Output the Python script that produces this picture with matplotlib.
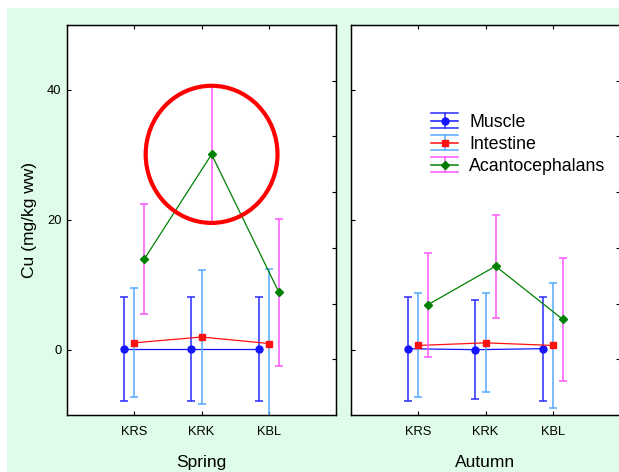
import numpy as np
import matplotlib
matplotlib.use('Agg')
import matplotlib.pyplot as plt
from matplotlib.patches import Rectangle, Ellipse
from matplotlib.lines import Line2D
from matplotlib.legend_handler import HandlerBase
from matplotlib.container import ErrorbarContainer

plt.rcParams['font.family'] = ['Liberation Sans', 'DejaVu Sans']

# ── Data (Cu, mg/kg ww, mean ± error) ────────────────────────
sites = ['KRS', 'KRK', 'KBL']
seasons = ['Spring', 'Autumn']

spring_muscle        = [0.1, 0.1, 0.1]
spring_muscle_err    = [8.0, 8.0, 8.0]
spring_intestine     = [1.1, 2.0, 1.0]
spring_intestine_err = [8.4, 10.3, 11.4]
spring_acanto        = [14.0, 30.1, 8.9]
spring_acanto_err    = [8.4, 10.5, 11.3]

autumn_muscle        = [0.2, 0.05, 0.2]
autumn_muscle_err    = [8.0, 7.6, 8.0]
autumn_intestine     = [0.7, 1.1, 0.7]
autumn_intestine_err = [8.0, 7.6, 9.6]
autumn_acanto        = [7.0, 12.9, 4.7]
autumn_acanto_err    = [8.0, 7.9, 9.5]

labels = ['Muscle', 'Intestine', 'Acantocephalans']

# ── Styles ───────────────────────────────────────────────────
line_cols = ['#1515ff', '#ff1010', '#008000']
bar_cols  = ['#2a2aff', '#55aaff', '#ff55ff']
markers   = ['o', 's', 'D']
msizes    = [5.0, 4.6, 4.2]
offsets   = [-0.15, 0.0, 0.15]
bg_green  = '#defce7'


class BarHandler(HandlerBase):
    # legend key: caps as full-width lines, like the original software
    def create_artists(self, legend, orig, xdescent, ydescent, width, height, fontsize, trans):
        line = orig[0]
        bar_col = orig[2][0].get_colors()[0]
        x0, x1 = -xdescent, width - xdescent
        xc = (x0 + x1) / 2
        cy = height / 2 - ydescent
        dy = height * 0.46
        arts = [
            Line2D([x0, x1], [cy + dy, cy + dy], color=bar_col, lw=1.1),
            Line2D([x0, x1], [cy - dy, cy - dy], color=bar_col, lw=1.1),
            Line2D([xc, xc], [cy - dy, cy + dy], color=bar_col, lw=1.1),
            Line2D([x0, x1], [cy, cy], color=line.get_color(), lw=1.1),
            Line2D([xc], [cy], marker=line.get_marker(), color=line.get_color(),
                   markersize=line.get_markersize(), linestyle='none'),
        ]
        for a in arts:
            a.set_transform(trans)
        return arts


fig = plt.figure(figsize=(6.19, 4.72), dpi=100, facecolor='white')
fig.patches.append(Rectangle((7 / 619, 0), 1, 1 - 8 / 472, transform=fig.transFigure,
                             facecolor=bg_green, edgecolor='none', zorder=-1))

ax_w, ax_h = 269 / 619, 390 / 472
ax_b = 57 / 472
ax1 = fig.add_axes([67 / 619, ax_b, ax_w, ax_h])
ax2 = fig.add_axes([351 / 619, ax_b, ax_w, ax_h])

panels = [
    (ax1, [spring_muscle, spring_intestine, spring_acanto],
          [spring_muscle_err, spring_intestine_err, spring_acanto_err]),
    (ax2, [autumn_muscle, autumn_intestine, autumn_acanto],
          [autumn_muscle_err, autumn_intestine_err, autumn_acanto_err]),
]

x = np.arange(1, len(sites) + 1)
containers = []
for p, (ax, means, errs) in enumerate(panels):
    ax.set_facecolor('white')
    for i in range(3):
        c = ax.errorbar(x + offsets[i], means[i], yerr=errs[i], color=line_cols[i],
                        ecolor=bar_cols[i], elinewidth=1.1, capsize=3.2, capthick=1.1,
                        marker=markers[i], markersize=msizes[i], lw=0.9,
                        label=labels[i], zorder=3 + i)
        if p == 1:
            containers.append(c)
    ax.set_xlim(0, 4)
    ax.set_ylim(-10, 50)
    ax.set_xticks(x)
    ax.set_xticklabels(sites)
    ax.set_yticks([0, 20, 40])
    ax.tick_params(direction='in', length=3, width=0.8, labelsize=9.3,
                   top=True, right=False, pad=4)
    ax.tick_params(axis='x', pad=8)
    ax.set_xlabel(seasons[p], fontsize=12.5, labelpad=12)
    for s in ax.spines.values():
        s.set_linewidth(1.0)
    # secondary right-hand scale drawn by the original software
    tw = ax.twinx()
    tw.set_ylim(0, 7)
    tw.set_yticks(range(1, 7))
    tw.tick_params(direction='in', length=3, width=0.8, labelright=False)

ax1.set_ylabel('Cu (mg/kg ww)', fontsize=12.5, labelpad=7)
ax2.tick_params(axis='y', labelleft=False)

# ── Highlight KRK acantocephalans in spring ──────────────────
ax1.add_patch(Ellipse((x[1] + offsets[2], spring_acanto[1]), 1.96, 21.1,
                      fill=False, edgecolor='#ff0000', lw=3.0, zorder=10))

# ── Legend ───────────────────────────────────────────────────
ax2.legend(handles=containers, labels=labels, loc='upper left',
           bbox_to_anchor=(0.264, 0.798), frameon=False, fontsize=12.8,
           borderpad=0, labelspacing=0.22, handlelength=1.55, handleheight=1.0,
           handletextpad=0.6, handler_map={ErrorbarContainer: BarHandler()})

plt.savefig('out.png', dpi=100)
